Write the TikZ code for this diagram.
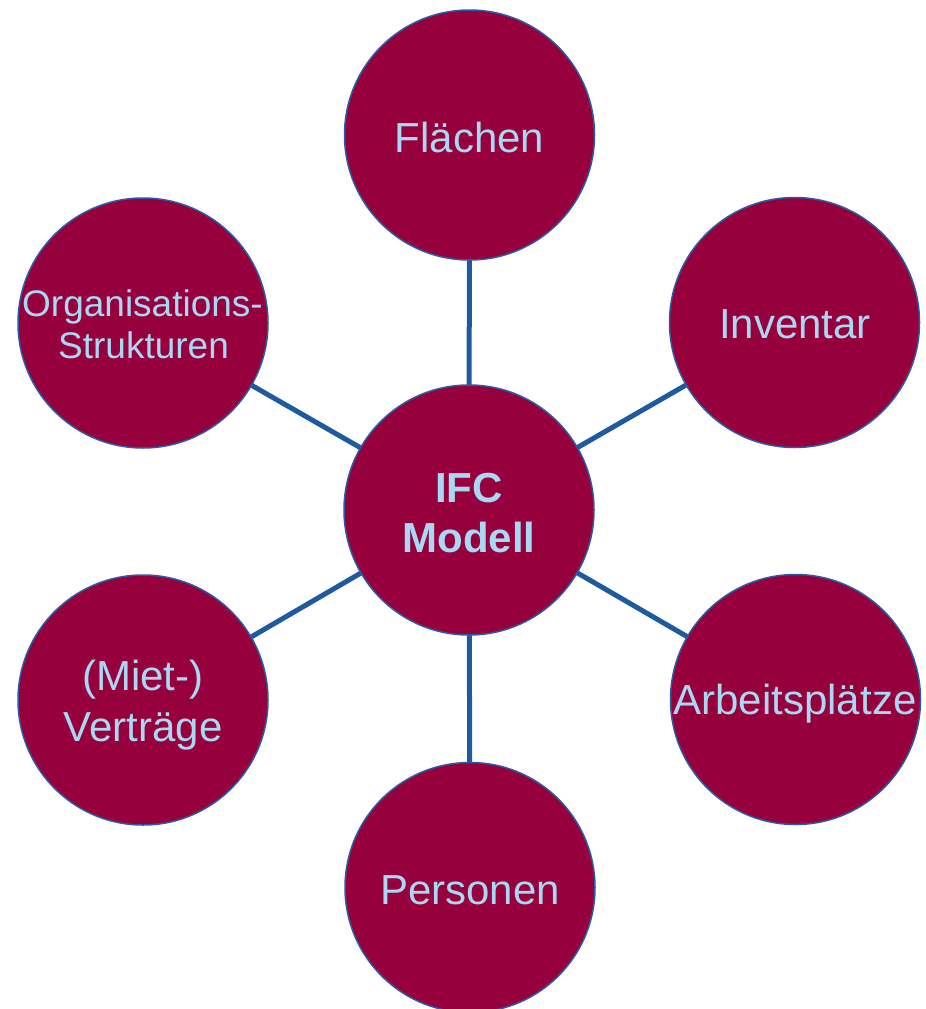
\documentclass[tikz,border=0pt]{standalone}
\usepackage{fontspec}
\setmainfont{Liberation Sans}
\usetikzlibrary{backgrounds}
\definecolor{bubblefill}{RGB}{150,0,60}
\definecolor{bubbleline}{RGB}{42,92,165}
\definecolor{linkblue}{RGB}{31,90,160}
\definecolor{txtblue}{RGB}{168,216,242}
\tikzset{
  bubble/.style={circle, draw=bubbleline, line width=1.5pt, fill=bubblefill, minimum size=250pt, inner sep=0pt},
  lbl/.style={anchor=base, inner sep=0pt, text=txtblue, font=\fontsize{42}{50}\selectfont},
  lblsmall/.style={lbl, font=\fontsize{37}{44}\selectfont},
  lblbold/.style={lbl, font=\fontsize{42}{50}\selectfont\bfseries},
  link/.style={draw=linkblue, line width=5pt}
}
\begin{document}
\begin{tikzpicture}[x=1pt, y=-1pt]
\useasboundingbox (0,0) rectangle (926,1009);
\node[bubble] (ifc) at (469,510) {};
\node[bubble] (fl) at (469.5,135) {};
\node[bubble] (inv) at (794.5,322.5) {};
\node[bubble] (arb) at (795.5,699.5) {};
\node[bubble] (per) at (470,887.5) {};
\node[bubble] (ver) at (143,700) {};
\node[bubble] (org) at (143,323) {};
\begin{scope}[on background layer]
\draw[link] (ifc.center) -- (fl.center);
\draw[link] (ifc.center) -- (inv.center);
\draw[link] (ifc.center) -- (arb.center);
\draw[link] (ifc.center) -- (per.center);
\draw[link] (ifc.center) -- (ver.center);
\draw[link] (ifc.center) -- (org.center);
\end{scope}
\node[lblbold] (ifc1) at (469,502) {IFC};
\node[lblbold] (ifc2) at (469,552) {Modell};
\node[lbl] (flt) at (469.5,152) {Flächen};
\node[lbl] (invt) at (795,338) {Inventar};
\node[lbl] (arbt) at (795,714) {Arbeitsplätze};
\node[lbl] (pert) at (470,904) {Personen};
\node[lbl] (ver1) at (143,690) {(Miet-)};
\node[lbl] (ver2) at (143,741) {Verträge};
\node[lblsmall] (org1) at (142.5,316) {Organisations-};
\node[lblsmall] (org2) at (143.5,358) {Strukturen};
\end{tikzpicture}
\end{document}
